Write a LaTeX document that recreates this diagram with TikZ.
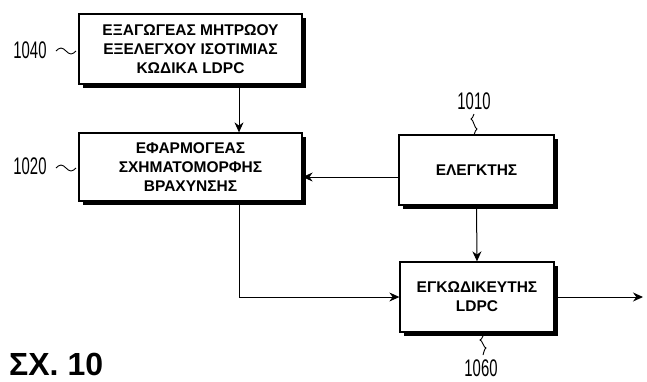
\documentclass[tikz,border=0pt]{standalone}
\usepackage{fontspec}
\setmainfont{Liberation Sans}
\usetikzlibrary{arrows.meta,shadows}
\begin{document}
\begin{tikzpicture}[x=1pt,y=-1pt,
  blk/.style={draw=black, line width=1.3pt, fill=white, align=center,
    font=\bfseries\fontsize{15.5}{19}\selectfont, inner sep=0pt,
    general shadow={fill=black, shadow xshift=3.5pt, shadow yshift=-3.5pt}},
  arr/.style={line width=1pt, -{Stealth[length=10pt,width=9pt]}},
  refl/.style={font=\fontsize{24}{24}\selectfont, xscale=0.62, inner sep=0pt},
  sq/.style={line width=0.9pt}]
\useasboundingbox (0,0) rectangle (647,381);

\node[blk, minimum width=223pt, minimum height=70pt] (ext) at (190.5,49)
  {ΕΞΑΓΩΓΕΑΣ ΜΗΤΡΩΟΥ\\ΕΞΕΛΕΓΧΟΥ ΙΣΟΤΙΜΙΑΣ\\ΚΩΔΙΚΑ LDPC};
\node[blk, minimum width=223pt, minimum height=68pt] (sfa) at (190.5,167)
  {ΕΦΑΡΜΟΓΕΑΣ\\ΣΧΗΜΑΤΟΜΟΡΦΗΣ\\ΒΡΑΧΥΝΣΗΣ};
\node[blk, minimum width=155pt, minimum height=70pt] (ctrl) at (476.5,170)
  {ΕΛΕΓΚΤΗΣ};
\node[blk, minimum width=154pt, minimum height=70pt] (enc) at (477,297)
  {ΕΓΚΩΔΙΚΕΥΤΗΣ\\LDPC};

\coordinate (cx) at (239,0);
\coordinate (out) at (643,297);

\draw[arr] (cx |- ext.south) -- (cx |- sfa.north);
\draw[arr] ([yshift=-7pt]ctrl.west) -- ([yshift=-7pt]ctrl.west -| sfa.east);
\draw[arr] (ctrl.south) -- (enc.north);
\draw[arr] (cx |- sfa.south) |- (enc.west);
\draw[arr] (enc.east) -- (out);

% reference labels
\node[refl] (l1040) at (30,50) {1040};
\node[refl] (l1020) at (30,166) {1020};
\node[refl] (l1010) at (474,101) {1010};
\node[refl] (l1060) at (481,368) {1060};

\draw[sq] (56,51) sin (61,48) cos (66,51) sin (71,54) cos (76,51);
\draw[sq] (56,168) sin (61,165) cos (66,168) sin (71,171) cos (76,168);
\draw[sq] (474,114) sin (471,119) cos (474,124) sin (477,129) cos (474,135);
\draw[sq] (483,336) sin (480,340) cos (483,344) sin (486,348) cos (483,355);

\node[font=\bfseries\fontsize{32}{32}\selectfont, anchor=base west, inner sep=0pt] (cap) at (9,375) {ΣΧ. 10};
\end{tikzpicture}
\end{document}
